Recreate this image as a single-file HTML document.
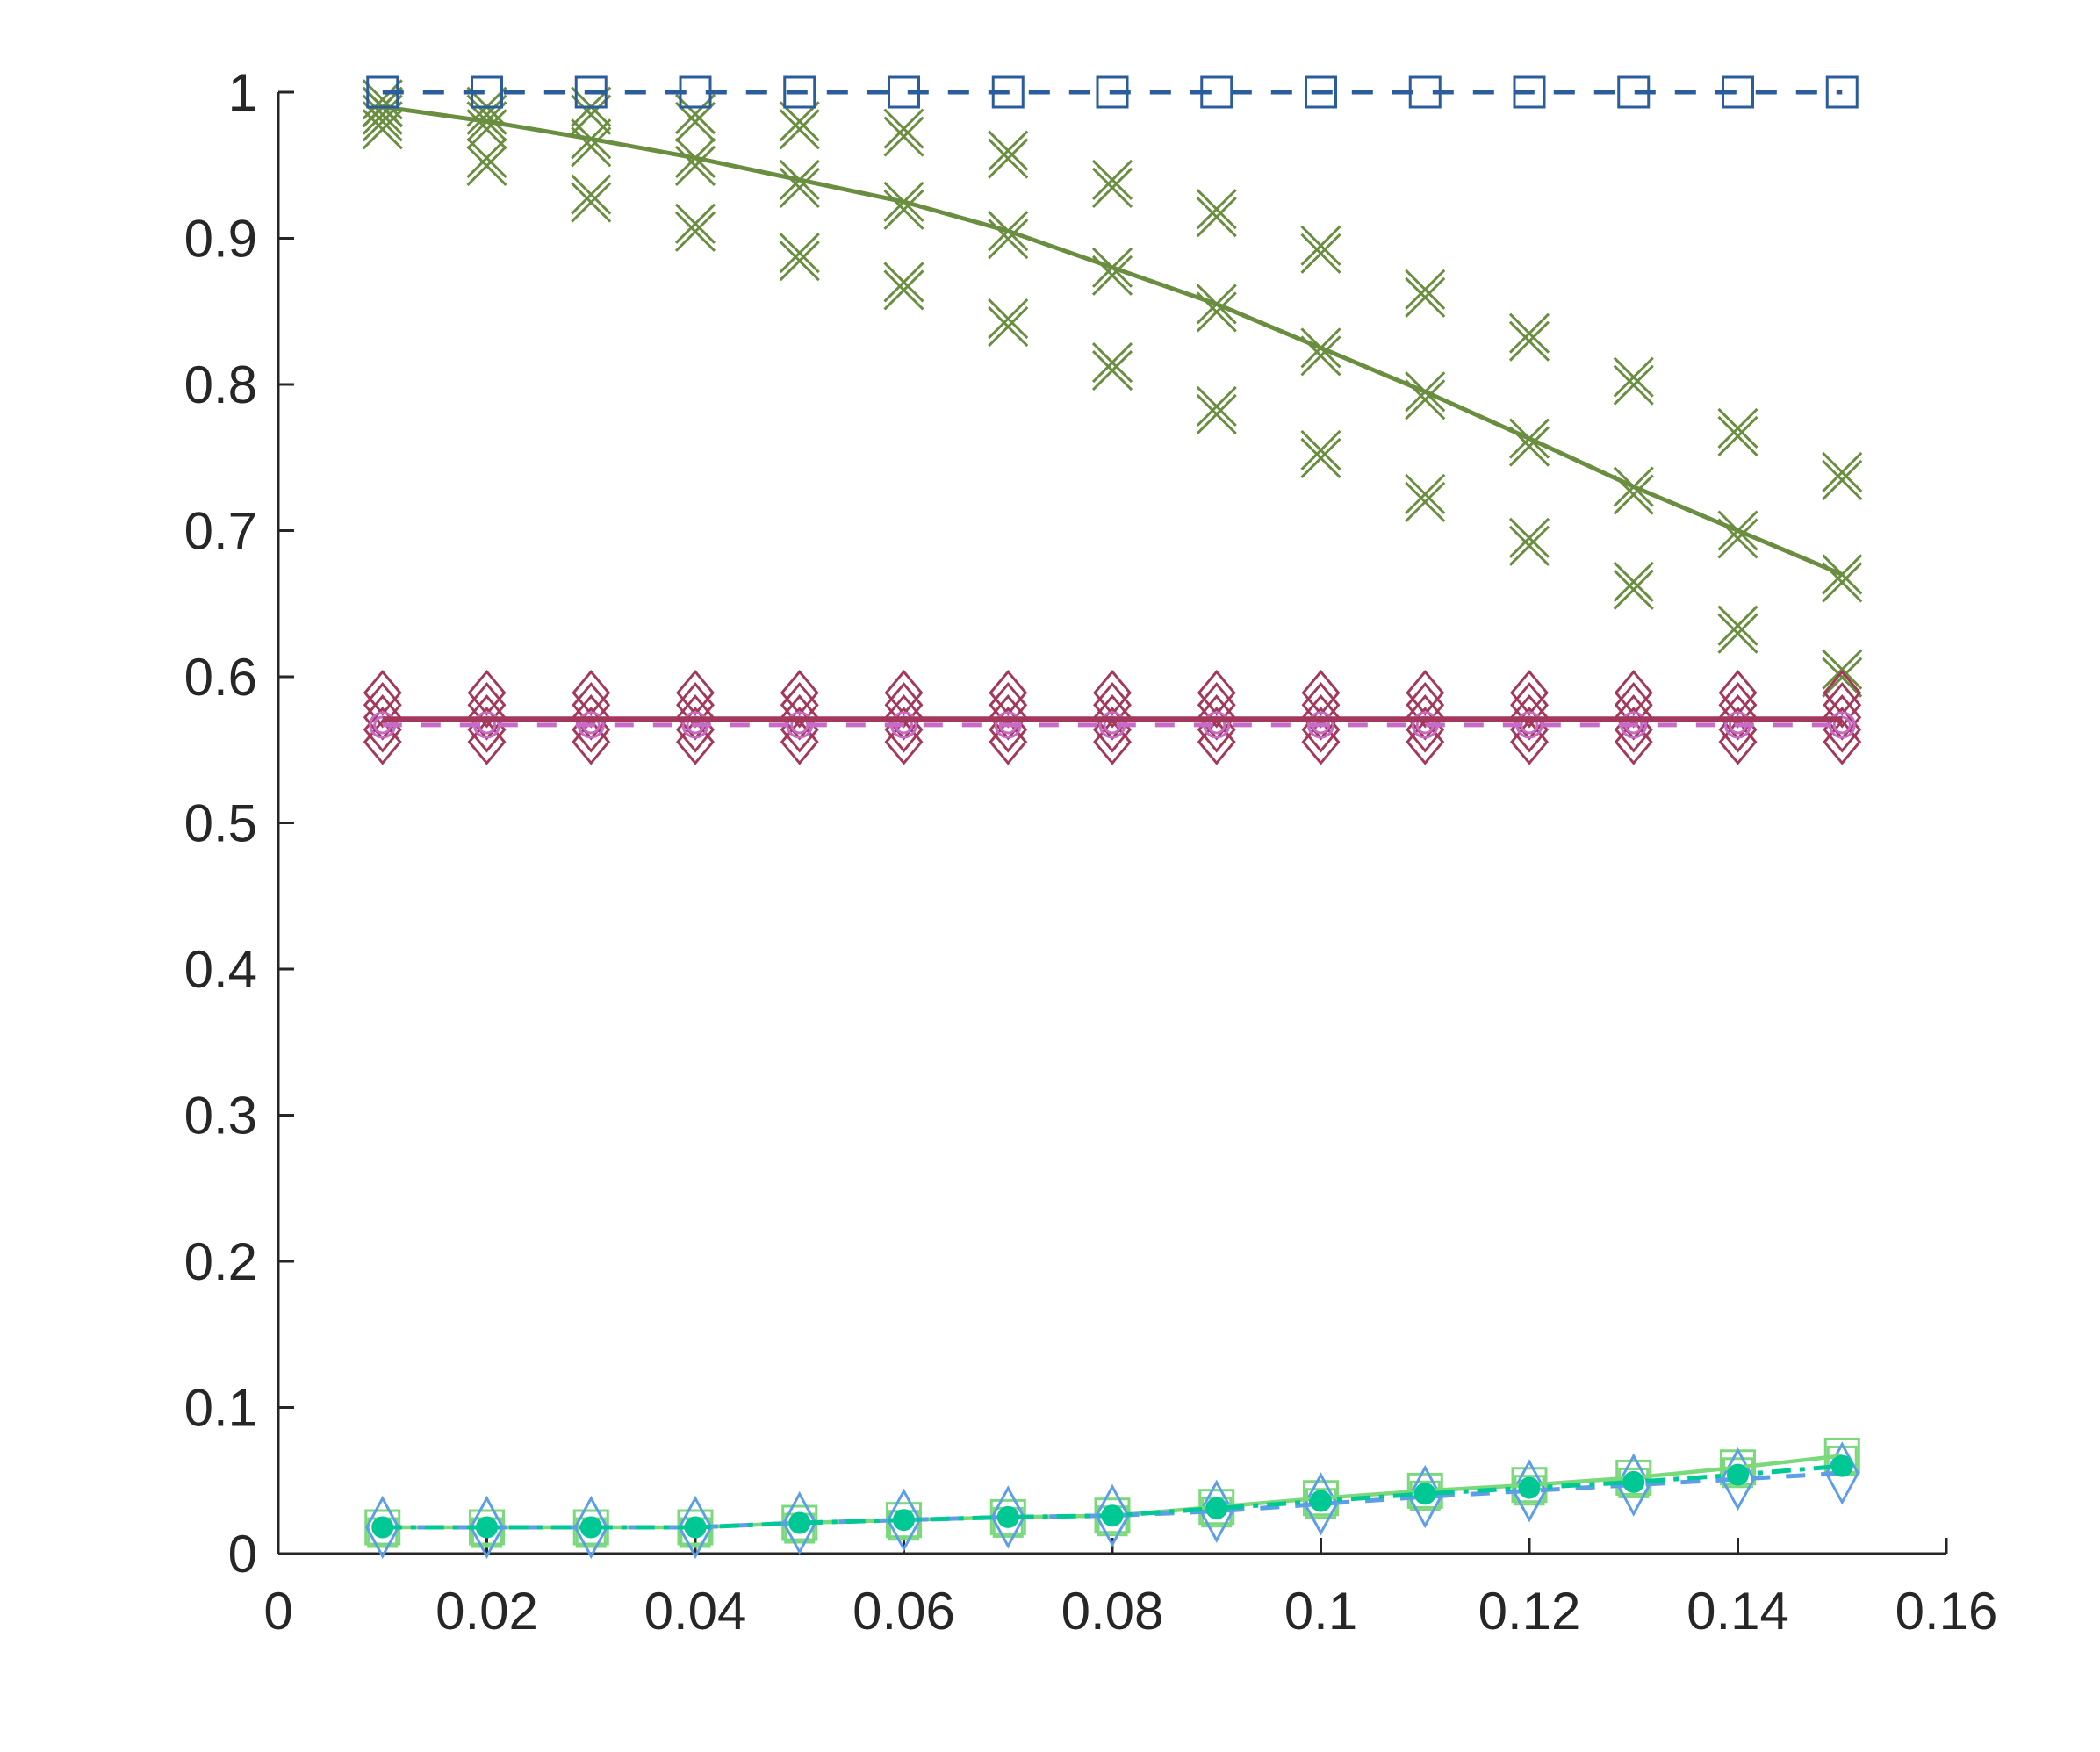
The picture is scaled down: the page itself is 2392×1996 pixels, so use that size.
<!DOCTYPE html>
<html><head><meta charset="utf-8"><style>
html,body{margin:0;padding:0;background:#fff;}
svg{display:block;font-family:"Liberation Sans",Arial,sans-serif;}
</style></head><body>
<svg id="chart" width="2392" height="1996" viewBox="0 0 2392 1996" xmlns="http://www.w3.org/2000/svg">
<rect width="2392" height="1996" fill="#fff"/>
<g id="axes"></g>
<g id="marks"></g>
</svg>
<script>
const xs = [0.01,0.02,0.03,0.04,0.05,0.06,0.07,0.08,0.09,0.10,0.11,0.12,0.13,0.14,0.15];
const blueTop = [1,1,1,1,1,1,1,1,1,1,1,1,1,1,1];
const greenMean = [0.99,0.98,0.968,0.955,0.94,0.925,0.905,0.88,0.855,0.825,0.795,0.763,0.73,0.70,0.67];
const greenUpper = [0.995,0.99,0.99,0.985,0.98,0.975,0.96,0.94,0.92,0.895,0.865,0.835,0.805,0.77,0.74];
const greenLower = [0.98,0.955,0.93,0.91,0.89,0.87,0.845,0.815,0.785,0.755,0.725,0.695,0.665,0.635,0.605];
const redLine = [0.571,0.571,0.571,0.571,0.571,0.571,0.571,0.571,0.571,0.571,0.571,0.571,0.571,0.571,0.571];
const magentaLine = [0.567,0.567,0.567,0.567,0.567,0.567,0.567,0.567,0.567,0.567,0.567,0.567,0.567,0.567,0.567];
const lightGreen = [0.018,0.018,0.018,0.018,0.021,0.023,0.025,0.026,0.032,0.038,0.043,0.047,0.052,0.059,0.067];
const tealLine = [0.018,0.018,0.018,0.018,0.021,0.023,0.025,0.026,0.031,0.036,0.041,0.045,0.049,0.054,0.060];
const blueLow = [0.018,0.018,0.018,0.018,0.021,0.023,0.025,0.026,0.029,0.034,0.039,0.043,0.047,0.051,0.055];
const xTicks = [0,0.02,0.04,0.06,0.08,0.1,0.12,0.14,0.16];
const xTickLabels = ["0","0.02","0.04","0.06","0.08","0.1","0.12","0.14","0.16"];
const yTicks = [0,0.1,0.2,0.3,0.4,0.5,0.6,0.7,0.8,0.9,1];
const yTickLabels = ["0","0.1","0.2","0.3","0.4","0.5","0.6","0.7","0.8","0.9","1"];

const X0=317, X1=2217, Y0=1770, Y1=105;
const sx = v => X0 + (v-0)/(0.16-0)*(X1-X0);
const sy = v => Y0 - (v-0)/(1-0)*(Y0-Y1);
const NS="http://www.w3.org/2000/svg";
const axes=document.getElementById('axes'), marks=document.getElementById('marks');
function mk(tag, attrs, parent){const e=document.createElementNS(NS,tag);for(const k in attrs)e.setAttribute(k,attrs[k]);parent.appendChild(e);return e;}

let el=mk('line',{x1:X0,y1:Y0,x2:X1,y2:Y0,stroke:'#262626','stroke-width':3},axes);


el=mk('line',{x1:X0,y1:Y0,x2:X0,y2:Y1,stroke:'#262626','stroke-width':3},axes);


xTicks.forEach((t,i)=>{
  const x=sx(t);
  const tk=mk('line',{x1:x,y1:Y0,x2:x,y2:Y0-18,stroke:'#262626','stroke-width':3},axes);
  
  
  const tx=mk('text',{x:x,y:Y0+86,'font-size':60,'text-anchor':'middle',fill:'#262626'},axes);
  tx.textContent=xTickLabels[i];
  
  
});
yTicks.forEach((t,i)=>{
  const y=sy(t);
  const tk=mk('line',{x1:X0,y1:y,x2:X0+18,y2:y,stroke:'#262626','stroke-width':3},axes);
  
  
  const tx=mk('text',{x:X0-24,y:y+21,'font-size':60,'text-anchor':'end',fill:'#262626'},axes);
  tx.textContent=yTickLabels[i];
  
  
});

function line(vals,color,w,dash,name){
  const p=vals.map((v,i)=>sx(xs[i]).toFixed(1)+','+sy(v).toFixed(1)).join(' ');
  const l=mk('polyline',{points:p,fill:'none',stroke:color,'stroke-width':w,'stroke-dasharray':dash||'none'},marks);
  
  
}
function xmark(cx,cy,color,name){
  const g=mk('path',{d:`M${cx-22},${cy-22}L${cx+22},${cy+22}M${cx-22},${cy+22}L${cx+22},${cy-22}`,stroke:color,'stroke-width':3,fill:'none'},marks);
  
  
}
function square(cx,cy,s,color,name){
  const r=mk('rect',{x:cx-s/2,y:cy-s/2,width:s,height:s,fill:'none',stroke:color,'stroke-width':3},marks);
  
  
}
function diamond(cx,cy,w,h,color,name){
  const d=mk('path',{d:`M${cx},${cy-h/2}L${cx+w/2},${cy}L${cx},${cy+h/2}L${cx-w/2},${cy}Z`,fill:'none',stroke:color,'stroke-width':3},marks);
  
  
}
function dot(cx,cy,r,color,fill,name){
  const c=mk('circle',{cx:cx,cy:cy,r:r,fill:fill,stroke:color,'stroke-width':3},marks);
  
  
}

const GREEN='#6a8e3f';
xs.forEach((x,i)=>{
  const cx=sx(x);
  [greenUpper[i],greenLower[i],greenMean[i]].forEach(v=>{
    xmark(cx,sy(v),GREEN,'green-x-marker');
    xmark(cx,sy(v)+9,GREEN,'green-x-marker');
  });
});
line(greenMean,GREEN,5,null,'green-mean-line');

const RED='#a3385a', MAG='#c66cc6';
xs.forEach((x,i)=>{
  const cx=sx(x), cy=sy(redLine[i]);
  [-30,-16,-2,12,26].forEach(o=>diamond(cx,cy+o,40,48,RED,'red-diamond-marker'));
  dot(cx,sy(magentaLine[i]),14,MAG,'none','magenta-circle-marker');
  dot(cx,sy(magentaLine[i]),9,MAG,'none','magenta-circle-marker');
});
line(redLine,RED,6,null,'red-line');
line(magentaLine,MAG,5,'22 22','magenta-dashed-line');

const BLUE='#2b5c9c';
line(blueTop,BLUE,5,'24 22','blue-dashed-line');
xs.forEach((x,i)=>square(sx(x),sy(blueTop[i]),34,BLUE,'blue-square-marker'));

const LG='#7bd97b', TEAL='#00c895', LB='#5e9ee8';
xs.forEach((x,i)=>{
  const cx=sx(x);
  square(cx,sy(lightGreen[i]),38,LG,'light-green-square-marker');
  square(cx,sy(lightGreen[i])+6,32,LG,'light-green-square-marker');
  diamond(cx,sy(blueLow[i]),36,66,LB,'blue-diamond-marker');
});
line(lightGreen,LG,4.5,null,'light-green-line');
line(blueLow,LB,5,'22 18','blue-dashed-line-low');
line(tealLine,TEAL,5,'22 10 6 10','teal-dashdot-line');
xs.forEach((x,i)=>dot(sx(x),sy(tealLine[i]),11,TEAL,TEAL,'teal-dot-marker'));
</script>
</body></html>
